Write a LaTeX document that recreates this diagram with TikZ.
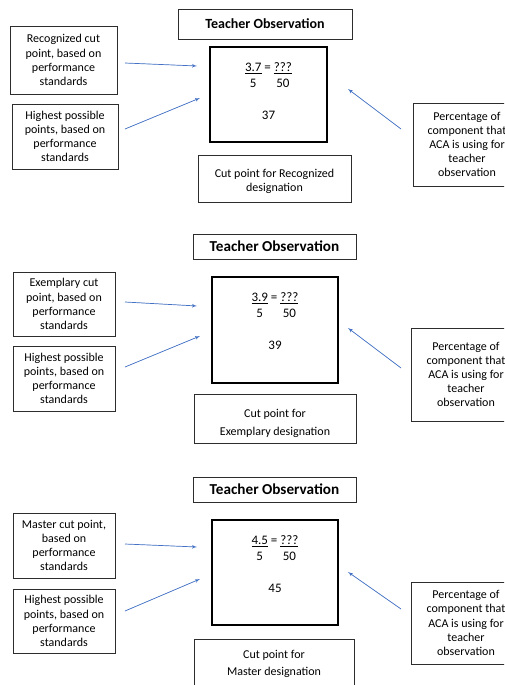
\documentclass[tikz,border=0pt]{standalone}
\usepackage{fontspec}
\setmainfont{Carlito}
\usepackage{xcolor}
\usetikzlibrary{arrows, positioning}
\definecolor{arrowblue}{RGB}{68,114,196}
\definecolor{boxgray}{RGB}{45,45,45}

\begin{document}
\begin{tikzpicture}[x=1pt, y=-1pt, >=latex',
    box/.style={draw=boxgray, line width=0.8pt, inner sep=0pt, align=center,
        font=\fontsize{12}{14.2}\selectfont},
    titlebox/.style={box, font=\bfseries\fontsize{14}{16}\selectfont},
    bigtitlebox/.style={box, font=\bfseries\fontsize{15.2}{17}\selectfont},
    mainbox/.style={draw=black, line width=2.2pt, inner sep=0pt},
    fractext/.style={inner sep=0pt, font=\fontsize{13}{16}\selectfont},
    arr/.style={->, draw=arrowblue, fill=arrowblue, line width=0.7pt}]
        \useasboundingbox (0,0) rectangle (504,685);
        \clip (0,0) rectangle (504,685);

        \node[titlebox, minimum width=174pt, minimum height=30pt] (t1) at (265,24) {Teacher Observation};
        \node[mainbox, minimum width=117pt, minimum height=95pt] (m1) at (268.5,94.5) {};
        \node[fractext, below=14pt of m1.north] (f1) {\begin{tabular}{@{}c@{\ }c@{\ }c@{}}
            \underline{3.7} & = & \underline{???}\\ 5 & & 50\\[16pt] \multicolumn{3}{c}{37}\end{tabular}};
        \node[box, minimum width=153pt, minimum height=47pt] (c1) at (274.5,178.5) {\rule{0pt}{14pt}Cut point for Recognized\\designation};
        \node[box, minimum width=107pt, minimum height=68pt] (l1a) at (63.5,60) {Recognized cut\\point, based on\\performance\\standards};
        \node[box, minimum width=106pt, minimum height=65pt] (l1b) at (65,136.5) {Highest possible\\points, based on\\performance\\standards};
        \node[box, minimum width=108pt, minimum height=83pt] (r1) at (467,144.5) {Percentage of\\component that\\ACA is using for\\teacher\\observation};
        \coordinate (s1a) at (125,63);  \coordinate (e1a) at (197,66);
        \coordinate (s1b) at (125,129); \coordinate (e1b) at (200,98);
        \coordinate (s1r) at (401,129); \coordinate (e1r) at (348,89);
        \draw[arr] (s1a) -- (e1a);
        \draw[arr] (s1b) -- (e1b);
        \draw[arr] (s1r) -- (e1r);

        \node[bigtitlebox, minimum width=163pt, minimum height=25pt] (t2) at (274.5,246.5) {Teacher Observation};
        \node[mainbox, minimum width=126pt, minimum height=106pt] (m2) at (275,330) {};
        \node[fractext, below=14pt of m2.north] (f2) {\begin{tabular}{@{}c@{\ }c@{\ }c@{}}
            \underline{3.9} & = & \underline{???}\\ 5 & & 50\\[16pt] \multicolumn{3}{c}{39}\end{tabular}};
        \node[box, minimum width=162pt, minimum height=49pt] (c2) at (275,418.5) {\rule{0pt}{19pt}Cut point for\\[3.8pt]Exemplary designation};
        \node[box, minimum width=102pt, minimum height=64pt] (l2a) at (64,304) {Exemplary cut\\point, based on\\performance\\standards};
        \node[box, minimum width=102pt, minimum height=65pt] (l2b) at (64,378.5) {Highest possible\\points, based on\\performance\\standards};
        \node[box, minimum width=110pt, minimum height=93pt] (r2) at (466,374.5) {Percentage of\\component that\\ACA is using for\\teacher\\observation};
        \coordinate (s2a) at (125,302); \coordinate (e2a) at (197,306);
        \coordinate (s2b) at (125,367); \coordinate (e2b) at (200,336);
        \coordinate (s2r) at (401,368); \coordinate (e2r) at (348,328);
        \draw[arr] (s2a) -- (e2a);
        \draw[arr] (s2b) -- (e2b);
        \draw[arr] (s2r) -- (e2r);

        \node[bigtitlebox, minimum width=163pt, minimum height=25pt] (t3) at (274.5,489.5) {Teacher Observation};
        \node[mainbox, minimum width=126pt, minimum height=105pt] (m3) at (275,572.5) {};
        \node[fractext, below=14pt of m3.north] (f3) {\begin{tabular}{@{}c@{\ }c@{\ }c@{}}
            \underline{4.5} & = & \underline{???}\\ 5 & & 50\\[16pt] \multicolumn{3}{c}{45}\end{tabular}};
        \node[box, minimum width=160pt, minimum height=50pt] (c3) at (274,664) {Cut point for\\[3pt]Master designation};
        \node[box, minimum width=102pt, minimum height=65pt] (l3a) at (64,545.5) {Master cut point,\\based on\\performance\\standards};
        \node[box, minimum width=102pt, minimum height=64pt] (l3b) at (64,621) {Highest possible\\points, based on\\performance\\standards};
        \node[box, minimum width=110pt, minimum height=82pt] (r3) at (466,623) {Percentage of\\component that\\ACA is using for\\teacher\\observation};
        \coordinate (s3a) at (125,544); \coordinate (e3a) at (197,547);
        \coordinate (s3b) at (125,611); \coordinate (e3b) at (200,579);
        \coordinate (s3r) at (401,609); \coordinate (e3r) at (348,572);
        \draw[arr] (s3a) -- (e3a);
        \draw[arr] (s3b) -- (e3b);
        \draw[arr] (s3r) -- (e3r);
\end{tikzpicture}
\end{document}
